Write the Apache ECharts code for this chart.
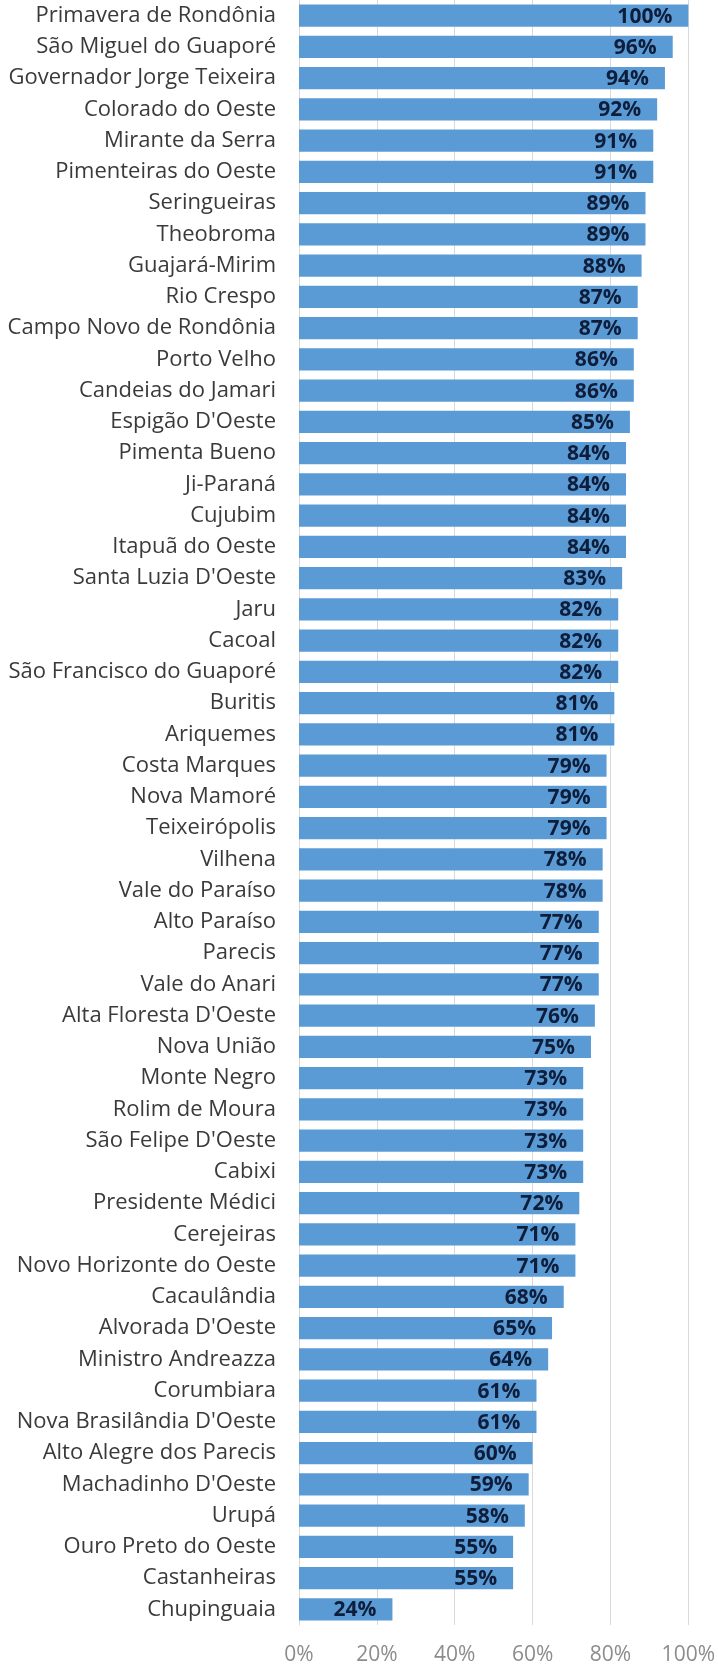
<!DOCTYPE html>
<html>
<head>
<meta charset="utf-8">
<script src="https://cdn.jsdelivr.net/npm/echarts@6/dist/echarts.min.js"></script>
<style>html,body{margin:0;padding:0;background:#fff}#c{width:718px;height:1666px}</style>
</head>
<body>
<div id="c"></div>
<script>
var categories = ["Primavera de Rondônia","São Miguel do Guaporé","Governador Jorge Teixeira","Colorado do Oeste","Mirante da Serra","Pimenteiras do Oeste","Seringueiras","Theobroma","Guajará-Mirim","Rio Crespo","Campo Novo de Rondônia","Porto Velho","Candeias do Jamari","Espigão D'Oeste","Pimenta Bueno","Ji-Paraná","Cujubim","Itapuã do Oeste","Santa Luzia D'Oeste","Jaru","Cacoal","São Francisco do Guaporé","Buritis","Ariquemes","Costa Marques","Nova Mamoré","Teixeirópolis","Vilhena","Vale do Paraíso","Alto Paraíso","Parecis","Vale do Anari","Alta Floresta D'Oeste","Nova União","Monte Negro","Rolim de Moura","São Felipe D'Oeste","Cabixi","Presidente Médici","Cerejeiras","Novo Horizonte do Oeste","Cacaulândia","Alvorada D'Oeste","Ministro Andreazza","Corumbiara","Nova Brasilândia D'Oeste","Alto Alegre dos Parecis","Machadinho D'Oeste","Urupá","Ouro Preto do Oeste","Castanheiras","Chupinguaia"];
var values = [100,96,94,92,91,91,89,89,88,87,87,86,86,85,84,84,84,84,83,82,82,82,81,81,79,79,79,78,78,77,77,77,76,75,73,73,73,73,72,71,71,68,65,64,61,61,60,59,58,55,55,24];
var tickValues = [0,20,40,60,80,100];

var chart = echarts.init(document.getElementById('c'), null, {renderer:'canvas'});
chart.setOption({
  animation:false,
  grid:{left:299, right:25, top:0, bottom:41, containLabel:false},
  xAxis:{type:'value', min:0, max:100, interval:20,
    axisLine:{show:false}, axisTick:{show:false},
    splitLine:{lineStyle:{color:'#d9d9d9', width:1}},
    axisLabel:{formatter:'{value}%', color:'#8c8c8c', fontSize:21, fontFamily:'Open Sans', margin:20}
  },
  yAxis:{type:'category', inverse:true, data:categories,
    axisLine:{show:true, lineStyle:{color:'#d9d9d9'}}, axisTick:{show:false},
    axisLabel:{color:'#3a3a3a', fontSize:22, fontWeight:500, fontFamily:'Open Sans', margin:23}
  },
  series:[{type:'bar', data:values, barCategoryGap:'29%',
    itemStyle:{color:'#5b9bd5'},
    label:{show:true, position:'insideRight', offset:[-11,1], formatter:'{c}%', color:'#0d1d3a', fontWeight:'bold', fontSize:21, fontFamily:'Open Sans'}
  }]
});
</script>
</body>
</html>
